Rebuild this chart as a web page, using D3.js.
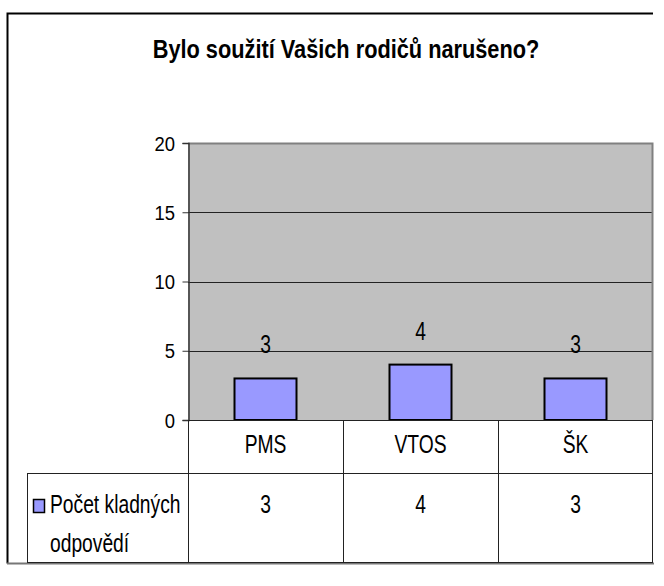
<!DOCTYPE html>
<html>
<head>
<meta charset="utf-8">
<script src="https://cdn.jsdelivr.net/npm/d3@7"></script>
<style>
  body { margin: 0; background: #fff; }
  text { font-family: "Liberation Sans", Arial, sans-serif; fill: #000; }
</style>
</head>
<body>
<div id="chart"></div>
<script>
// chart data
var title = "Bylo soužití Vašich rodičů narušeno?";
var categories = ["PMS", "VTOS", "ŠK"];
var values = [3, 4, 3];
var seriesLabel = ["Počet kladných", "odpovědí"];
var yTicks = [0, 5, 10, 15, 20];

var W = 664, H = 586;
var plot = {left: 188, right: 653, top: 143, bottom: 420};
var tableRow1 = 473, tableBottom = 562, tableLeft = 27;

var svg = d3.select("#chart").append("svg")
    .attr("width", W)
    .attr("height", H);

// text is narrow in the original, squeeze it horizontally
function label(g, x, y, str, size, k, anchor, weight) {
  return g.append("text")
      .attr("transform", "translate(" + x + "," + y + ") scale(" + k + ",1)")
      .attr("text-anchor", anchor || "middle")
      .style("font-size", size + "px")
      .style("font-weight", weight || "normal")
      .text(str);
}

// outer frame
svg.append("path")
    .attr("d", "M7.5,563.5 V13.5 H653")
    .attr("fill", "none")
    .attr("stroke", "#000")
    .attr("stroke-width", 2);
svg.append("line")
    .attr("x1", 7).attr("x2", 654)
    .attr("y1", 563.5).attr("y2", 563.5)
    .attr("stroke", "#777").attr("stroke-width", 2);

label(svg, 346, 58, title, 25, 0.87, "middle", "bold");

// scales
var x = d3.scaleBand()
    .domain(categories)
    .range([plot.left, plot.right])
    .paddingInner(0.6)
    .paddingOuter(0.3);

var y = d3.scaleLinear()
    .domain([0, 20])
    .range([plot.bottom, plot.top]);

// plot background
svg.append("rect")
    .attr("x", plot.left).attr("y", plot.top)
    .attr("width", plot.right - plot.left)
    .attr("height", plot.bottom - plot.top)
    .attr("fill", "#c0c0c0");

// gridlines
svg.append("g")
    .selectAll("line")
    .data(yTicks.filter(function(d) { return d > 0 && d < 20; }))
    .enter()
  .append("line")
    .attr("x1", plot.left).attr("x2", plot.right)
    .attr("y1", function(d) { return Math.round(y(d)) + 0.5; })
    .attr("y2", function(d) { return Math.round(y(d)) + 0.5; })
    .attr("stroke", "#222")
    .attr("stroke-width", 1);

// top and right border of plot area
svg.append("path")
    .attr("d", "M" + plot.left + "," + (plot.top + 0.5) + " H" + (plot.right - 0.5) + " V" + plot.bottom)
    .attr("fill", "none")
    .attr("stroke", "#808080")
    .attr("stroke-width", 2);

// y axis
var yAxis = d3.axisLeft(y).tickValues(yTicks).tickSize(6).tickFormat("");
var yg = svg.append("g")
    .attr("transform", "translate(" + (plot.left + 0.5) + ",0)")
    .call(yAxis);
yg.select(".domain").attr("stroke", "#333").attr("stroke-width", 1.5);
yg.selectAll(".tick line").attr("stroke", "#333");

yTicks.forEach(function(t) {
  label(svg, 175, y(t) + 7.5, String(t), 20.5, 0.9, "end");
});

// bars
svg.append("g")
    .selectAll("rect")
    .data(values)
    .enter()
  .append("rect")
    .attr("x", function(d, i) { return x(categories[i]); })
    .attr("y", function(d) { return y(d); })
    .attr("width", x.bandwidth())
    .attr("height", function(d) { return y(0) - y(d); })
    .attr("fill", "#9999ff")
    .attr("stroke", "#000")
    .attr("stroke-width", 2);

// value labels above bars
values.forEach(function(v, i) {
  label(svg, x(categories[i]) + x.bandwidth() / 2, y(v) - 25, String(v), 25, 0.77);
});

// data table
var tbl = svg.append("g")
    .attr("stroke", "#222")
    .attr("stroke-width", 1);

tbl.append("line")
    .attr("x1", plot.left).attr("x2", plot.right)
    .attr("y1", plot.bottom + 0.5).attr("y2", plot.bottom + 0.5);
[tableRow1, tableBottom].forEach(function(ly) {
  tbl.append("line")
      .attr("x1", tableLeft).attr("x2", plot.right)
      .attr("y1", ly + 0.5).attr("y2", ly + 0.5);
});
tbl.append("line")
    .attr("x1", tableLeft + 0.5).attr("x2", tableLeft + 0.5)
    .attr("y1", tableRow1).attr("y2", tableBottom);

var step = x.step();
var colEdges = categories.map(function(c) { return Math.round(x(c) + x.bandwidth() / 2 - step / 2); });
colEdges.push(plot.right - 1);
colEdges.forEach(function(cx) {
  tbl.append("line")
      .attr("x1", cx + 0.5).attr("x2", cx + 0.5)
      .attr("y1", plot.bottom).attr("y2", tableBottom);
});

categories.forEach(function(c, i) {
  var cx = x(c) + x.bandwidth() / 2;
  label(svg, cx, 453, c, 25, 0.77);
  label(svg, cx, 513, String(values[i]), 25, 0.77);
});

// legend key + series name
svg.append("rect")
    .attr("x", 33.5).attr("y", 499.5)
    .attr("width", 11).attr("height", 13)
    .attr("fill", "#9999ff")
    .attr("stroke", "#000")
    .attr("stroke-width", 1.5);
label(svg, 50, 513, seriesLabel[0], 25, 0.77, "start");
label(svg, 50, 552, seriesLabel[1], 25, 0.77, "start");
</script>
</body>
</html>
